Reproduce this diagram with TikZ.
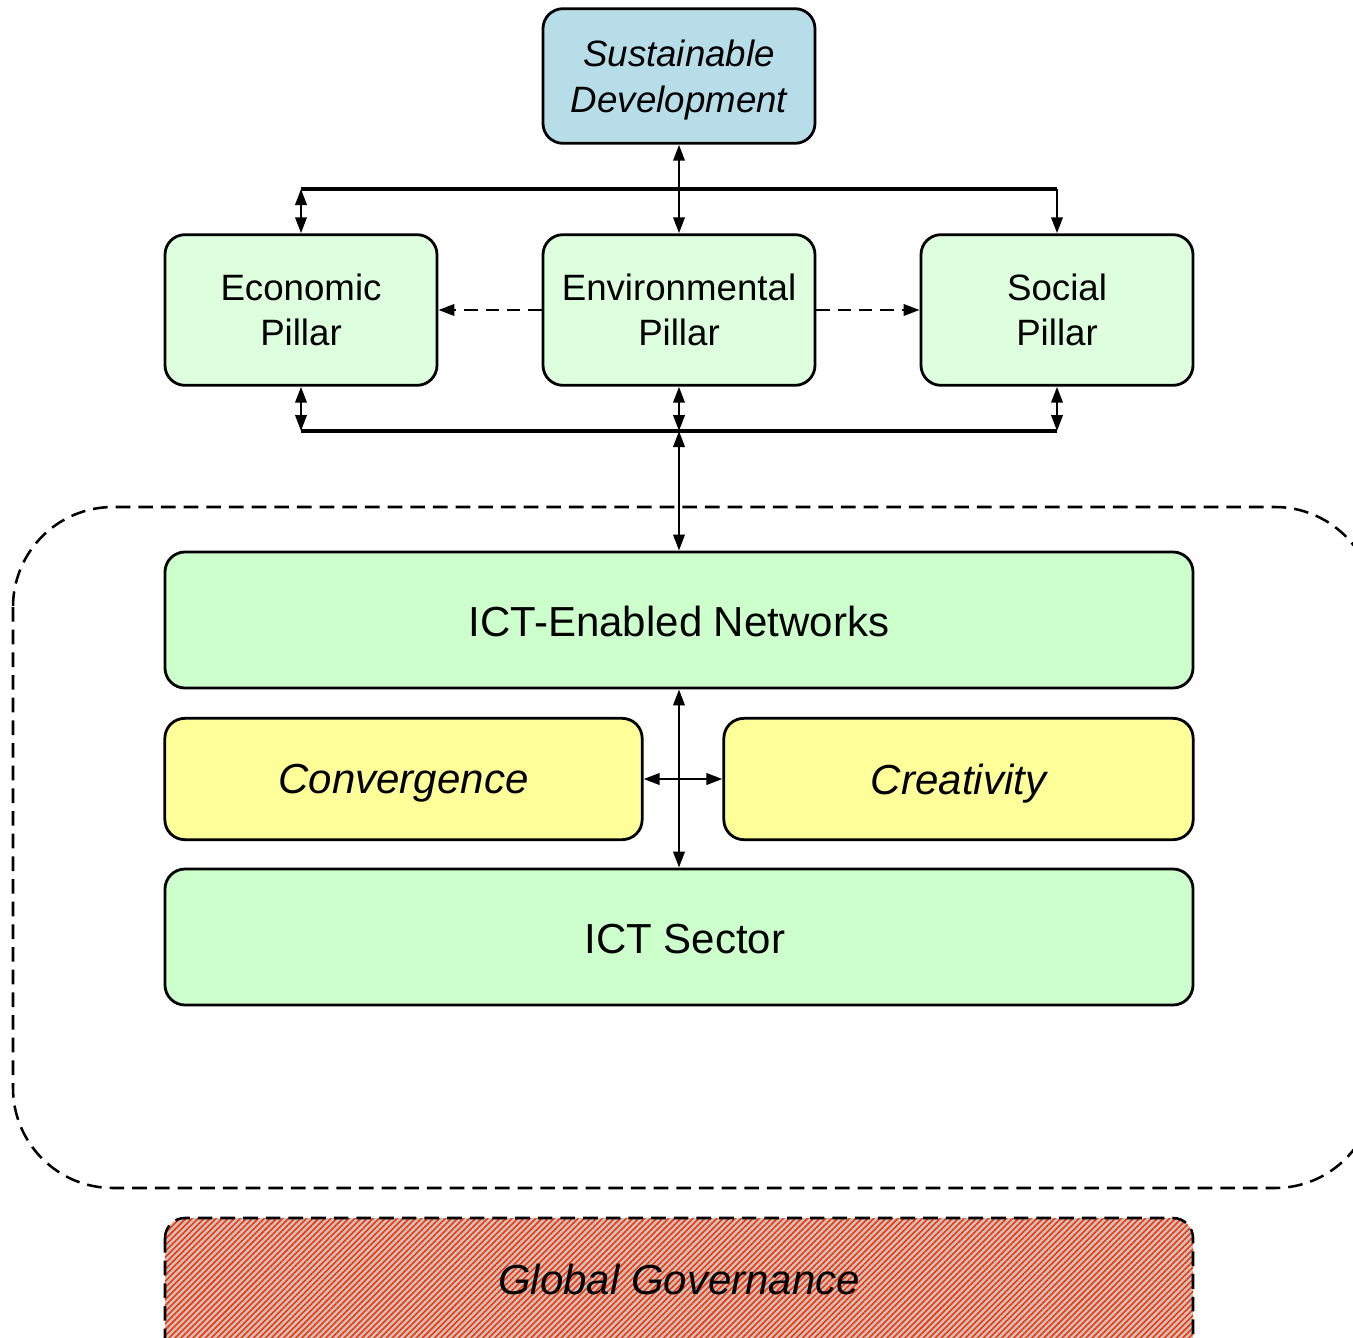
\documentclass[tikz,border=0pt]{standalone}
\usepackage{fontspec}
\setmainfont{Liberation Sans}
\usetikzlibrary{arrows.meta,patterns.meta}
\definecolor{sdblue}{HTML}{B7DEE8}
\definecolor{pillargreen}{HTML}{DDFFDD}
\definecolor{ictgreen}{HTML}{CCFFCC}
\definecolor{yel}{HTML}{FFFF99}
\definecolor{hatchred}{HTML}{FF3300}
\definecolor{hatchgrey}{HTML}{C4C4C4}
\newcommand\lowr[2]{\raisebox{-#1}[\height][\depth]{#2}}
\tikzset{
  box/.style={draw=black, line width=2.1pt, rounded corners=15pt, align=center, inner sep=0pt},
  pillar/.style={box, fill=pillargreen, minimum width=204pt, minimum height=113pt, font=\fontsize{27.5}{34}\selectfont},
  wide/.style={box, fill=ictgreen, minimum width=771pt, minimum height=102pt, font=\fontsize{31.5}{38}\selectfont},
  yelbox/.style={box, fill=yel, minimum height=91pt, font=\fontsize{31.5}{38}\selectfont\itshape},
  tip/.tip={Triangle[length=12pt,width=8.5pt]},
  dbl/.style={line width=2pt, tip-tip},
  sgl/.style={line width=2pt, -tip},
  bus/.style={line width=2.6pt},
}
\begin{document}
\begin{tikzpicture}[x=0.75pt,y=-0.75pt]
\useasboundingbox (0,0) rectangle (1353,1338);
% dashed container
\draw[line width=1.9pt, dash pattern=on 11pt off 6pt, rounded corners=75pt] (13,507) rectangle (1375,1188);
% nodes
\node[box, fill=sdblue, minimum width=204pt, minimum height=101pt, font=\fontsize{27.5}{34}\selectfont\itshape] (sd) at (679,76) {\lowr{3pt}{Sustainable}\\\lowr{3pt}{Development}};
\node[pillar] (econ) at (301,310) {Economic\\Pillar};
\node[pillar] (env) at (679,310) {Environmental\\Pillar};
\node[pillar] (soc) at (1057,310) {Social\\Pillar};
\node[wide] (net) at (679,620) {\lowr{1pt}{ICT-Enabled Networks}};
\node[yelbox, minimum width=358pt] (conv) at (403.5,779) {\lowr{3.5pt}{Convergence}};
\node[yelbox, minimum width=352pt] (crea) at (958.5,779) {\lowr{3.5pt}{Creativity}};
\node[wide] (sec) at (679,937) {\lowr{1.5pt}{\hspace{9pt}ICT Sector}};
% global governance
\path[clip] (0,0) rectangle (1353,1338);
\draw[line width=1.9pt, dash pattern=on 11pt off 6pt, rounded corners=15pt,
  preaction={fill=hatchgrey},
  pattern={Lines[angle=45,distance=3.2pt,line width=1.2pt]}, pattern color=hatchred]
  (165,1218) rectangle (1193,1370);
\node[font=\fontsize{31.5}{38}\selectfont\itshape] (gg) at (679,1279) {Global Governance};
% coordinates for buses
\coordinate (ub1) at (301,189);
\coordinate (ub2) at (1057,189);
\coordinate (lb1) at (301,431);
\coordinate (lb2) at (1057,431);
\coordinate (lbm) at (679,431);
\draw[bus] (ub1) -- (ub2);
\draw[bus] (lb1) -- (lb2);
% top connectors
\draw[dbl] (sd.south) -- (env.north);
\draw[dbl] (ub1) -- (econ.north);
\draw[sgl] (ub2) -- (soc.north);
% dashed side arrows
\draw[sgl, dash pattern=on 10pt off 6pt] (env.west) -- (econ.east);
\draw[sgl, dash pattern=on 10pt off 6pt] (env.east) -- (soc.west);
% lower connectors
\draw[dbl] (econ.south) -- (lb1);
\draw[dbl] (env.south) -- (lbm);
\draw[dbl] (soc.south) -- (lb2);
\draw[dbl] (lbm) -- (net.north);
% middle cross
\draw[dbl] (net.south) -- (sec.north);
\draw[dbl] (conv.east) -- (crea.west);
\end{tikzpicture}
\end{document}
